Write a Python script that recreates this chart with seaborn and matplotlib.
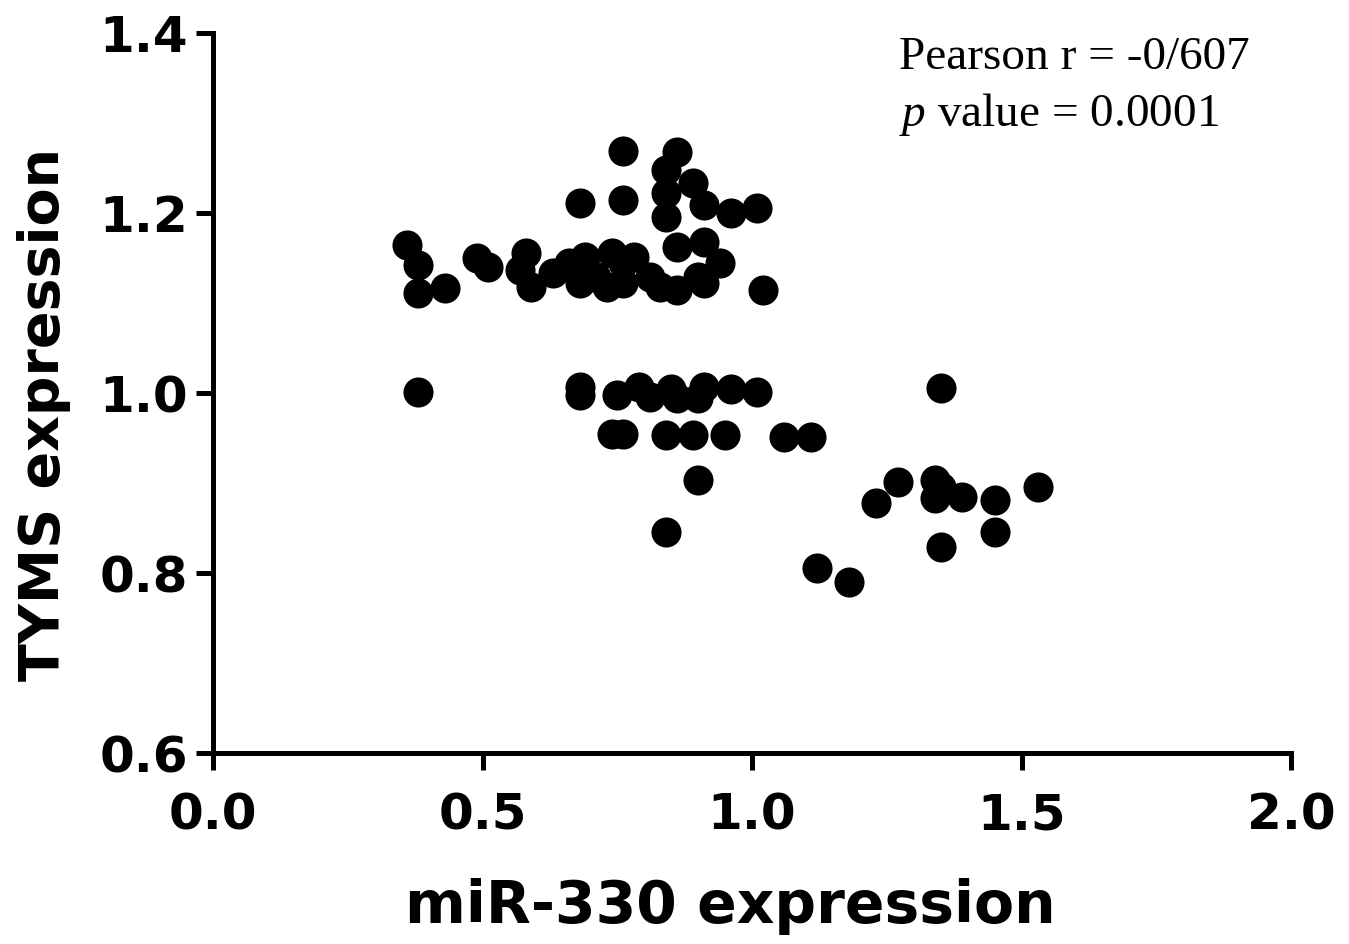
import numpy as np
import pandas as pd
import seaborn as sns
import matplotlib.pyplot as plt

# values
mir330 = [0.76, 0.86, 0.84, 0.89, 0.68, 0.76, 0.84, 0.84, 0.91, 0.96, 1.01,
          0.86, 0.91, 0.94, 1.02,
          0.36, 0.38, 0.38, 0.43, 0.49, 0.51, 0.58, 0.57, 0.59,
          0.63, 0.66, 0.68, 0.69, 0.71, 0.74, 0.76, 0.73, 0.78, 0.76, 0.81,
          0.83, 0.86, 0.91, 0.90,
          0.38, 0.68, 0.68, 0.75, 0.79, 0.81, 0.85, 0.86, 0.91, 0.90, 0.96, 1.01,
          0.74, 0.76, 0.84, 0.89, 0.95, 1.06, 1.11,
          0.90, 0.84,
          1.35, 1.27, 1.23, 1.34, 1.34, 1.35, 1.39, 1.45, 1.53, 1.45, 1.35,
          1.12, 1.18]
tyms = [1.269, 1.268, 1.248, 1.233, 1.211, 1.214, 1.222, 1.196, 1.209, 1.200, 1.206,
        1.162, 1.168, 1.144, 1.114,
        1.164, 1.142, 1.111, 1.117, 1.150, 1.140, 1.156, 1.137, 1.118,
        1.133, 1.144, 1.122, 1.151, 1.129, 1.156, 1.144, 1.118, 1.151, 1.122, 1.129,
        1.118, 1.114, 1.122, 1.129,
        1.001, 1.007, 0.998, 0.998, 1.007, 0.996, 1.005, 0.994, 1.007, 0.994, 1.005, 1.001,
        0.955, 0.955, 0.953, 0.953, 0.953, 0.951, 0.951,
        0.903, 0.846,
        1.006, 0.901, 0.878, 0.903, 0.883, 0.896, 0.885, 0.881, 0.896, 0.846, 0.829,
        0.806, 0.790]

xticks = [0.0, 0.5, 1.0, 1.5, 2.0]
yticks = [0.6, 0.8, 1.0, 1.2, 1.4]

df = pd.DataFrame({"x": mir330, "y": tyms})

sns.set_style("ticks")
plt.rcParams['font.family'] = ['DejaVu Sans']
plt.rcParams['text.color'] = 'black'
plt.rcParams['axes.labelcolor'] = 'black'
plt.rcParams['xtick.color'] = 'black'
plt.rcParams['ytick.color'] = 'black'
plt.rcParams['mathtext.fontset'] = 'custom'
plt.rcParams['mathtext.it'] = 'Liberation Serif:italic'
plt.rcParams['mathtext.rm'] = 'Liberation Serif'

fig = plt.figure(figsize=(13.49, 9.44), dpi=100)
ax = fig.add_axes([0.158, 0.2023, 0.799, 0.7627])

sns.scatterplot(data=df, x="x", y="y", ax=ax, color="black", s=470,
                edgecolor="black", linewidth=0, clip_on=False)

ax.set_xlim(0, 2.0)
ax.set_ylim(0.6, 1.4)
ax.set_xticks(xticks)
ax.set_yticks(yticks)
ax.set_xticklabels([f"{t:.1f}" for t in xticks], fontsize=36, fontweight="bold")
ax.set_yticklabels([f"{t:.1f}" for t in yticks], fontsize=36, fontweight="bold")
ax.tick_params(axis="both", width=3.6, length=12, direction="out", color="black", pad=6)
ax.tick_params(axis="x", pad=16)

sns.despine(ax=ax)
for sp in ["left", "bottom"]:
    ax.spines[sp].set_linewidth(3.6)
    ax.spines[sp].set_color("black")

ax.set_xlabel("miR-330 expression", fontsize=42, fontweight="bold")
ax.xaxis.set_label_coords(0.48, -0.173)
ax.set_ylabel("TYMS expression", fontsize=40, fontweight="bold")
ax.yaxis.set_label_coords(-0.132, 0.47)

ax.text(0.636, 0.995, "Pearson r = -0/607", transform=ax.transAxes,
        fontsize=34, family="Liberation Serif", va="top", ha="left")
ax.text(0.636, 0.92, r"$p$ value = 0.0001", transform=ax.transAxes,
        fontsize=34, family="Liberation Serif", va="top", ha="left")

fig.savefig("out.png", dpi=100)
